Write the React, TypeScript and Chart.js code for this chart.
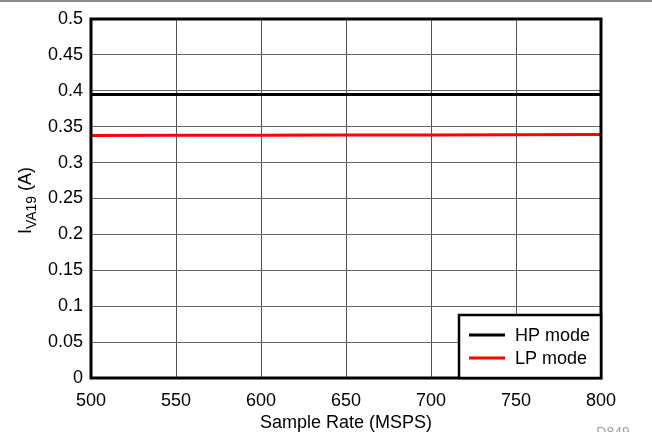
import React, { useEffect, useRef } from "react";
import { Chart, registerables } from "chart.js";

Chart.register(...registerables);

const sampleRates = [500, 550, 600, 650, 700, 750, 800];
const hpMode = [0.3948, 0.3949, 0.3949, 0.395, 0.395, 0.395, 0.395];
const lpMode = [0.3378, 0.338, 0.3382, 0.3384, 0.3386, 0.3388, 0.339];
const xTickLabels = ["500", "550", "600", "650", "700", "750", "800"];
const yTickLabels = ["0", "0.05", "0.1", "0.15", "0.2", "0.25", "0.3", "0.35", "0.4", "0.45", "0.5"];
const seriesNames = ["HP mode", "LP mode"];
const seriesColors = ["#000000", "#ff0000"];

const FONT = "'Liberation Sans', Arial, Helvetica, sans-serif";

const decorPlugin = {
  id: "decor",
  beforeDraw(chart: any) {
    const ctx = chart.ctx;
    ctx.save();
    ctx.fillStyle = "#ffffff";
    ctx.fillRect(0, 0, chart.width, chart.height);
    ctx.fillStyle = "#8a8a8a";
    ctx.fillRect(0, 0, chart.width, 2);
    ctx.restore();
  },
  afterDraw(chart: any) {
    const ctx = chart.ctx;
    const a = chart.chartArea;
    ctx.save();
    // plot border
    ctx.strokeStyle = "#000";
    ctx.lineWidth = 3;
    ctx.strokeRect(a.left, a.top, a.right - a.left, a.bottom - a.top);

    // legend box
    const lx = 459, ly = 315, lw = a.right - 459, lh = a.bottom - 315;
    ctx.fillStyle = "#fff";
    ctx.fillRect(lx, ly, lw, lh);
    ctx.lineWidth = 2.5;
    ctx.strokeStyle = "#000";
    ctx.strokeRect(lx, ly, lw, lh);
    ctx.font = `18px ${FONT}`;
    ctx.textBaseline = "middle";
    ctx.textAlign = "left";
    seriesNames.forEach((name, i) => {
      const y = 335 + i * 23;
      ctx.strokeStyle = seriesColors[i];
      ctx.lineWidth = 3;
      ctx.beginPath();
      ctx.moveTo(469, y);
      ctx.lineTo(505, y);
      ctx.stroke();
      ctx.fillStyle = "#000";
      ctx.fillText(name, 515, y + 1);
    });

    // x title
    ctx.fillStyle = "#000";
    ctx.textAlign = "center";
    ctx.textBaseline = "alphabetic";
    ctx.font = `18px ${FONT}`;
    ctx.fillText("Sample Rate (MSPS)", (a.left + a.right) / 2, 428);

    // y title with subscript
    const cy = (a.top + a.bottom) / 2 + 2;
    ctx.translate(31, cy);
    ctx.rotate(-Math.PI / 2);
    ctx.textAlign = "left";
    const mainFont = `18px ${FONT}`;
    const subFont = `14px ${FONT}`;
    ctx.font = mainFont;
    const w1 = ctx.measureText("I").width;
    const w3 = ctx.measureText(" (A)").width;
    ctx.font = subFont;
    const w2 = ctx.measureText("VA19").width;
    let x = -(w1 + w2 + w3) / 2;
    ctx.font = mainFont;
    ctx.fillText("I", x, 0);
    x += w1;
    ctx.font = subFont;
    ctx.fillText("VA19", x, 5);
    x += w2;
    ctx.font = mainFont;
    ctx.fillText(" (A)", x, 0);
    ctx.restore();

    // figure id
    ctx.save();
    ctx.fillStyle = "#a0a0a0";
    ctx.font = `14px ${FONT}`;
    ctx.textAlign = "center";
    ctx.textBaseline = "alphabetic";
    ctx.fillText("D849", 613, 437);
    ctx.restore();
  },
};

export default function App() {
  const ref = useRef<HTMLCanvasElement>(null);
  useEffect(() => {
    if (!ref.current) return;
    const chart = new Chart(ref.current, {
      type: "line",
      data: {
        datasets: [
          {
            label: seriesNames[0],
            data: sampleRates.map((x, i) => ({ x, y: hpMode[i] })),
            borderColor: seriesColors[0],
            borderWidth: 3,
            pointRadius: 0,
            tension: 0,
          },
          {
            label: seriesNames[1],
            data: sampleRates.map((x, i) => ({ x, y: lpMode[i] })),
            borderColor: seriesColors[1],
            borderWidth: 3,
            pointRadius: 0,
            tension: 0,
          },
        ],
      },
      options: {
        animation: false,
        responsive: false,
        layout: { padding: { left: 0, top: 19, right: 51, bottom: 0 } },
        plugins: { legend: { display: false }, tooltip: { enabled: false } },
        scales: {
          x: {
            type: "linear",
            min: 500,
            max: 800,
            afterFit: (s: any) => { s.height = 54; },
            afterBuildTicks: (s: any) => { s.ticks = sampleRates.map((v) => ({ value: v })); },
            ticks: {
              color: "#000",
              font: { family: FONT, size: 18 },
              padding: 12,
              maxRotation: 0,
              autoSkip: false,
              callback: (v: any, i: number) => xTickLabels[i],
            },
            grid: { color: "#555", lineWidth: 1, drawTicks: false },
            border: { display: false },
          },
          y: {
            type: "linear",
            min: 0,
            max: 0.5,
            afterFit: (s: any) => { s.width = 91; },
            afterBuildTicks: (s: any) => { s.ticks = yTickLabels.map((t) => ({ value: parseFloat(t) })); },
            ticks: {
              color: "#000",
              font: { family: FONT, size: 18 },
              padding: 8,
              autoSkip: false,
              callback: (v: any, i: number) => yTickLabels[i],
            },
            grid: { color: "#666", lineWidth: 1, drawTicks: false },
            border: { display: false },
          },
        },
      },
      plugins: [decorPlugin],
    });
    return () => chart.destroy();
  }, []);
  return (
    <div style={{ position: "fixed", left: 0, top: 0, width: 652, height: 432, background: "#fff" }}>
      <canvas ref={ref} width={652} height={432} style={{ display: "block" }} />
    </div>
  );
}
